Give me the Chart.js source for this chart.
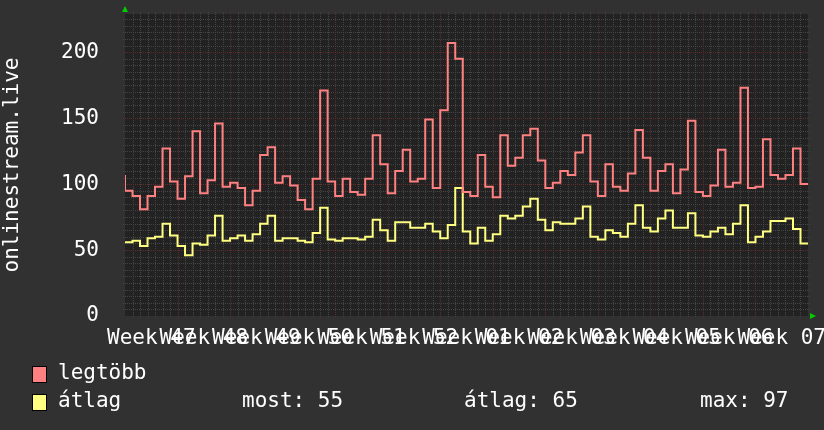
<!DOCTYPE html>
<html>
<head>
<meta charset="utf-8">
<script src="https://cdn.jsdelivr.net/npm/chart.js@4.4.1/dist/chart.umd.min.js"></script>
<style>
    html, body { margin: 0; padding: 0; background: #313131; }
    #wrap { width: 824px; height: 430px; }
</style>
</head>
<body>
<div id="wrap"><canvas id="myChart" width="824" height="430"></canvas></div>
<script>
// week labels, one per 7 days
const weekLabels = ["Week 47", "Week 48", "Week 49", "Week 50", "Week 51", "Week 52",
    "Week 01", "Week 02", "Week 03", "Week 04", "Week 05", "Week 06", "Week 07"];

// daily values (91 days)
const maxValues = [
    95, 91, 81, 91, 98, 127, 102, 89, 106, 140, 93, 103, 146, 98, 101, 97, 84, 95, 122, 128, 101, 106, 99,
    88, 81, 104, 171, 102, 91, 104, 94, 92, 104, 137, 115, 93, 110, 126, 102, 104, 149, 97, 156, 207, 195,
    94, 91, 122, 98, 90, 137, 114, 120, 137, 142, 118, 97, 101, 110, 107, 124, 137, 102, 91, 115, 98, 95, 108,
    141, 120, 95, 110, 115, 93, 111, 148, 94, 91, 99, 126, 98, 101, 173, 97, 98, 134, 107, 104, 107, 127, 100
];
const avgValues = [
    56, 57, 53, 59, 60, 70, 61, 53, 46, 55, 54, 61, 76, 57, 59, 61, 57, 62, 70, 76, 57, 59, 59,
    57, 56, 63, 82, 58, 57, 59, 59, 58, 60, 73, 65, 57, 71, 71, 67, 67, 70, 64, 59, 69, 97,
    64, 55, 67, 57, 62, 76, 74, 76, 83, 89, 73, 65, 71, 70, 70, 74, 83, 60, 58, 65, 63, 60, 70,
    84, 67, 64, 74, 80, 67, 67, 78, 61, 60, 64, 67, 62, 70, 84, 56, 60, 64, 72, 72, 74, 66, 55
];
const maxStart = 107;   // short spike at the very left edge

const yTicks = [0, 50, 100, 150, 200];
const seriesNames = ["legtöbb", "átlag"];
const statLabels = ["most: 55", "átlag: 65", "max: 97"];
const axisTitle = "onlinestream.live";

const FONT = "DejaVu Sans Mono";
const RED = "#ff8080";
const YELLOW = "#ffff80";
const dayCount = maxValues.length;

function toPoints(values, start) {
    let pts = values.map((v, i) => ({ x: i, y: v }));
    if (start !== undefined) pts.unshift({ x: 0, y: start });
    pts.push({ x: values.length, y: values[values.length - 1] });
    return pts;
}

// rrdtool style background grid
const rrdGrid = {
    id: "rrdGrid",
    beforeDatasetsDraw(chart) {
        const { ctx, chartArea: a, scales: { x, y } } = chart;
        ctx.save();
        ctx.fillStyle = "#222222";
        ctx.fillRect(a.left, a.top, a.right - a.left, a.bottom - a.top);
        ctx.lineWidth = 1;
        ctx.setLineDash([1, 1]);

        ctx.strokeStyle = "#454545";
        for (let v = 5; v <= y.max; v += 5) {
            if (v % 50 === 0) continue;
            let py = Math.round(y.getPixelForValue(v)) + 0.5;
            ctx.beginPath(); ctx.moveTo(a.left - 2, py); ctx.lineTo(a.right + 2, py); ctx.stroke();
        }
        for (let d = 1; d < dayCount; d++) {
            if (d % 7 === 0) continue;
            let px = Math.round(x.getPixelForValue(d)) + 0.5;
            ctx.beginPath(); ctx.moveTo(px, a.top - 2); ctx.lineTo(px, a.bottom + 2); ctx.stroke();
        }

        ctx.strokeStyle = "#5e2e2e";
        for (let v = 50; v <= y.max; v += 50) {
            let py = Math.round(y.getPixelForValue(v)) + 0.5;
            ctx.beginPath(); ctx.moveTo(a.left - 2, py); ctx.lineTo(a.right + 2, py); ctx.stroke();
        }
        for (let d = 7; d < dayCount; d += 7) {
            let px = Math.round(x.getPixelForValue(d)) + 0.5;
            ctx.beginPath(); ctx.moveTo(px, a.top - 2); ctx.lineTo(px, a.bottom + 2); ctx.stroke();
        }
        ctx.restore();
    },
    afterDraw(chart) {
        const { ctx, chartArea: a } = chart;
        ctx.save();
        // green axis arrows
        ctx.fillStyle = "#00cc00";
        ctx.beginPath();
        ctx.moveTo(a.left - 3, a.top - 2); ctx.lineTo(a.left + 3, a.top - 2); ctx.lineTo(a.left, a.top - 8);
        ctx.fill();
        ctx.beginPath();
        ctx.moveTo(a.right + 2, a.bottom - 3); ctx.lineTo(a.right + 2, a.bottom + 3); ctx.lineTo(a.right + 8, a.bottom);
        ctx.fill();

        // legend
        ctx.font = "21px '" + FONT + "'";
        ctx.textBaseline = "middle";
        const colors = [RED, YELLOW];
        const rows = [374, 402];
        seriesNames.forEach((name, i) => {
            ctx.fillStyle = colors[i];
            ctx.fillRect(32, rows[i] - 8, 14, 16);
            ctx.strokeStyle = "#000";
            ctx.lineWidth = 1;
            ctx.strokeRect(32.5, rows[i] - 7.5, 14, 16);
            ctx.fillStyle = "#ffffff";
            ctx.fillText(name, 58, rows[i]);
        });
        const statX = [242, 464, 700];
        statLabels.forEach((s, i) => ctx.fillText(s, statX[i], rows[1]));
        ctx.restore();
    }
};

const ctx = document.getElementById("myChart").getContext("2d");
const myChart = new Chart(ctx, {
    type: "line",
    data: {
        datasets: [{
            label: seriesNames[0],
            data: toPoints(maxValues, maxStart),
            borderColor: RED,
            borderWidth: 2,
            stepped: true,
            pointRadius: 0,
            fill: false
        }, {
            label: seriesNames[1],
            data: toPoints(avgValues),
            borderColor: YELLOW,
            borderWidth: 2,
            stepped: true,
            pointRadius: 0,
            fill: false
        }]
    },
    plugins: [rrdGrid],
    options: {
        responsive: false,
        animation: false,
        devicePixelRatio: 1,
        layout: { padding: { top: 14, right: 16, left: 0, bottom: 0 } },
        plugins: {
            legend: { display: false },
            tooltip: { enabled: false }
        },
        scales: {
            x: {
                type: "linear",
                min: 0,
                max: dayCount,
                grid: { display: false },
                border: { display: false },
                afterBuildTicks: s => { s.ticks = weekLabels.map((l, i) => ({ value: 3.5 + 7 * i })); },
                afterFit: s => { s.height = 114; s.paddingLeft = 0; s.paddingRight = 0; },
                ticks: {
                    autoSkip: false,
                    maxRotation: 0,
                    minRotation: 0,
                    padding: 2,
                    color: "#ffffff",
                    font: { family: FONT, size: 21 },
                    callback: (v, i) => weekLabels[i]
                }
            },
            y: {
                min: 0,
                max: 229,
                grid: { display: false },
                border: { display: false },
                afterBuildTicks: s => { s.ticks = yTicks.map(v => ({ value: v })); },
                afterFit: s => { s.width = 125; s.paddingTop = 0; s.paddingBottom = 0; },
                ticks: {
                    padding: 18,
                    color: "#ffffff",
                    font: { family: FONT, size: 21 }
                },
                title: {
                    display: true,
                    text: axisTitle,
                    color: "#ffffff",
                    padding: 0,
                    font: { family: FONT, size: 21 }
                }
            }
        }
    }
});
</script>
</body>
</html>
